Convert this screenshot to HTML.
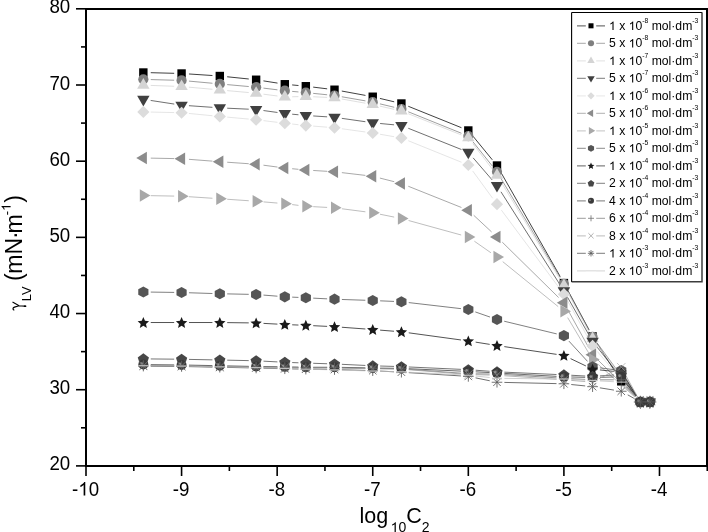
<!DOCTYPE html><html><head><meta charset="utf-8"><style>html,body{margin:0;padding:0;background:#fff;width:708px;height:532px;overflow:hidden}svg{display:block;will-change:transform}text{font-family:"Liberation Sans",sans-serif;fill:#000}</style></head><body>
<svg width="708" height="532" viewBox="0 0 708 532">
<path d="M150.75 72.70L174.18 73.31M188.96 73.98L212.43 75.53M227.17 76.77L248.77 78.99M263.44 80.89L277.50 83.09M292.17 84.93L298.47 85.52M313.18 87.12L327.16 88.83M341.79 91.06L365.46 95.40M379.94 98.43L394.21 101.81M408.28 106.28L461.46 127.71M473.01 136.21L492.31 159.80M500.65 171.95L560.24 276.64M567.40 289.59L589.07 329.88M596.55 342.63L617.27 375.10M626.29 386.76L635.33 396.49" fill="none" stroke="#000000" stroke-width="0.75"/>
<path d="M150.75 79.57L174.18 80.22M188.95 81.10L212.44 83.26M227.18 84.60L248.76 86.54M263.48 88.11L277.46 89.82M292.18 91.38L298.46 91.95M313.20 93.36L327.15 94.77M341.80 96.78L365.45 100.88M379.94 103.86L394.22 107.28M408.27 111.77L461.46 133.27M472.95 141.82L492.37 166.07M500.79 178.20L560.10 277.48M567.42 290.34L589.05 330.27M596.95 342.74L635.99 395.94" fill="none" stroke="#7f7f7f" stroke-width="0.75"/>
<path d="M150.74 85.42L174.18 86.26M188.95 87.18L212.44 89.29M227.18 90.62L248.76 92.56M263.47 94.18L277.47 96.00M292.20 96.77L298.44 96.61M313.23 96.76L327.12 97.39M341.79 99.01L365.45 103.21M379.96 106.13L394.20 109.35M408.29 113.72L461.45 134.97M472.82 143.59L492.50 169.32M500.83 181.53L560.07 279.33M567.42 292.17L589.05 332.17M597.04 344.58L635.90 396.01" fill="none" stroke="#d4d4d4" stroke-width="0.75"/>
<path d="M150.66 100.44L174.27 104.07M188.96 105.70L212.43 107.34M227.20 108.20L248.74 109.19M263.46 110.54L277.48 112.48M292.17 114.19L298.47 114.78M313.22 115.94L327.12 116.83M341.83 118.35L365.41 121.73M380.11 123.49L394.05 124.82M408.29 128.27L461.45 149.52M473.15 157.87L492.16 179.95M500.96 191.80L559.93 284.59M567.55 297.27L588.92 334.91M597.16 347.15L635.78 396.10" fill="none" stroke="#404040" stroke-width="0.75"/>
<path d="M150.75 112.05L174.18 112.57M188.94 113.45L212.45 115.74M227.18 117.13L248.76 119.07M263.48 120.64L277.46 122.34M292.16 124.04L298.48 124.73M313.21 126.10L327.13 127.17M341.84 128.74L365.41 131.99M380.03 134.25L394.12 136.69M408.27 140.72L461.46 162.22M472.69 170.96L492.63 198.25M501.41 210.16L559.48 288.25M567.49 300.66L588.99 339.44M597.38 351.55L635.56 396.28" fill="none" stroke="#dcdcdc" stroke-width="0.75"/>
<path d="M150.75 158.13L174.18 158.59M188.96 159.32L212.43 161.14M227.19 162.22L248.75 163.72M263.47 165.20L277.47 167.06M292.17 168.73L298.47 169.32M313.22 170.47L327.12 171.32M341.86 172.63L365.39 175.40M379.91 178.07L394.24 181.69M408.29 186.25L461.45 207.49M473.73 215.29L491.58 231.93M502.27 242.17L558.62 297.54M567.48 309.20L589.00 348.20M597.84 359.88L635.10 396.71" fill="none" stroke="#8c8c8c" stroke-width="0.75"/>
<path d="M150.75 195.67L174.18 196.09M188.96 196.71L212.43 198.25M227.19 199.25L248.75 200.74M263.51 201.88L277.43 203.06M292.15 204.59L298.49 205.37M313.22 206.67L327.12 207.41M341.85 208.75L365.40 211.80M379.99 214.22L394.16 217.08M408.55 220.51L461.19 235.01M474.39 241.22L490.93 252.78M502.74 261.67L558.15 306.59M567.68 317.62L588.79 353.12M598.11 364.39L634.83 397.00" fill="none" stroke="#a8a8a8" stroke-width="0.75"/>
<path d="M150.75 292.08L174.18 292.41M188.98 292.75L212.42 293.50M227.21 293.89L248.73 294.34M263.51 295.08L277.43 296.19M292.20 297.13L298.44 297.42M313.22 298.14L327.12 298.85M341.90 299.47L365.34 300.26M380.13 300.83L394.02 301.42M408.76 302.59L460.97 308.65M475.31 311.93L490.01 317.05M504.19 321.22L556.71 333.90M568.90 341.08L587.57 361.41M599.91 367.84L613.91 369.70M625.11 376.99L636.50 395.60" fill="none" stroke="#555555" stroke-width="0.75"/>
<path d="M150.75 322.53L174.18 322.53M188.98 322.53L212.41 322.53M227.21 322.62L248.73 322.89M263.52 323.38L277.42 324.12M292.20 324.80L298.44 325.05M313.23 325.70L327.12 326.37M341.89 327.26L365.36 328.99M380.12 330.13L394.04 331.24M408.75 332.82L460.99 339.96M475.63 342.13L489.69 344.37M504.31 346.62L556.58 354.36M570.58 358.63L585.90 365.96M599.93 369.93L613.89 371.42M625.25 378.42L636.36 395.69" fill="none" stroke="#1a1a1a" stroke-width="0.75"/>
<path d="M150.75 358.94L174.18 359.17M188.98 359.40L212.41 359.86M227.21 360.16L248.73 360.62M263.52 361.16L277.42 361.90M292.20 362.56L298.44 362.79M313.23 363.29L327.11 363.74M341.90 364.32L365.35 365.45M380.14 366.02L394.02 366.42M408.81 366.97L460.93 369.35M475.70 370.23L489.61 371.27M504.39 372.15L556.51 374.53M571.29 375.26L585.18 376.00M599.96 375.90L613.86 374.97M625.48 380.55L636.13 395.84" fill="none" stroke="#474747" stroke-width="0.75"/>
<path d="M150.75 364.65L174.18 364.89M188.98 365.11L212.41 365.58M227.21 365.88L248.73 366.33M263.53 366.58L277.41 366.77M292.21 367.00L298.44 367.11M313.23 367.25L327.11 367.25M341.91 367.39L365.34 367.86M380.14 368.11L394.01 368.29M408.81 368.73L460.93 371.10M475.71 371.83L489.60 372.57M504.38 373.38L556.51 376.35M571.30 376.97L585.18 377.33M599.97 377.33L613.85 376.97M625.73 382.66L635.88 396.02" fill="none" stroke="#3a3a3a" stroke-width="0.75"/>
<path d="M150.75 365.42L174.18 365.65M188.98 365.87L212.41 366.34M227.21 366.56L248.73 366.79M263.53 366.96L277.41 367.15M292.21 367.38L298.44 367.49M313.23 367.63L327.11 367.63M341.91 367.78L365.34 368.24M380.14 368.49L394.01 368.67M408.79 369.32L460.94 373.18M475.72 373.82L489.59 374.00M504.38 374.57L556.51 377.83M571.29 378.69L585.18 379.42M599.97 379.82L613.85 379.82M626.09 385.41L635.52 396.31" fill="none" stroke="#707070" stroke-width="0.75"/>
<path d="M150.75 365.80L174.18 366.03M188.98 366.25L212.41 366.72M227.21 366.94L248.73 367.17M263.53 367.35L277.41 367.53M292.21 367.76L298.44 367.87M313.23 368.01L327.11 368.01M341.91 368.16L365.34 368.62M380.14 368.87L394.01 369.05M408.79 369.74L460.94 373.90M475.72 374.68L489.60 375.05M504.38 375.75L556.52 379.31M571.28 380.40L585.20 381.51M599.14 378.70L614.68 370.65M624.82 373.73L636.79 395.43" fill="none" stroke="#9c9c9c" stroke-width="0.75"/>
<path d="M150.75 366.18L174.18 366.41M188.98 366.63L212.41 367.10M227.21 367.40L248.73 367.85M263.53 368.21L277.41 368.57M292.21 368.90L298.44 369.02M313.23 369.25L327.11 369.43M341.90 369.75L365.34 370.45M380.13 371.07L394.02 371.81M408.80 372.66L460.93 375.93M475.57 377.87L489.74 380.77M504.39 382.42L556.50 383.61M571.26 384.52L585.21 385.93M599.88 387.84L613.94 390.08M627.71 394.85L633.90 398.30" fill="none" stroke="#404040" stroke-width="0.75"/>
<path d="M150.75 365.80L174.18 366.03M188.98 366.25L212.41 366.72M227.21 367.02L248.73 367.47M263.53 367.82L277.41 368.19M292.20 368.66L298.44 368.88M313.23 369.35L327.11 369.72M341.90 370.13L365.34 370.83M380.14 371.25L394.02 371.62M408.80 372.20L460.93 374.87M475.68 376.03L489.64 377.51M504.39 378.38L556.50 378.97M571.29 379.45L585.18 380.19M599.96 380.97L613.86 381.71M626.39 387.43L635.23 396.58" fill="none" stroke="#c0c0c0" stroke-width="0.75"/>
<rect x="139.15" y="68.31" width="8.40" height="8.40" fill="#000000"/>
<rect x="177.38" y="69.30" width="8.40" height="8.40" fill="#000000"/>
<rect x="215.61" y="71.81" width="8.40" height="8.40" fill="#000000"/>
<rect x="251.93" y="75.54" width="8.40" height="8.40" fill="#000000"/>
<rect x="280.61" y="80.04" width="8.40" height="8.40" fill="#000000"/>
<rect x="301.63" y="82.02" width="8.40" height="8.40" fill="#000000"/>
<rect x="330.31" y="85.52" width="8.40" height="8.40" fill="#000000"/>
<rect x="368.54" y="92.53" width="8.40" height="8.40" fill="#000000"/>
<rect x="397.21" y="99.31" width="8.40" height="8.40" fill="#000000"/>
<rect x="464.12" y="126.28" width="8.40" height="8.40" fill="#000000"/>
<rect x="492.79" y="161.32" width="8.40" height="8.40" fill="#000000"/>
<rect x="559.70" y="278.87" width="8.40" height="8.40" fill="#000000"/>
<rect x="588.37" y="332.19" width="8.40" height="8.40" fill="#000000"/>
<rect x="617.05" y="377.14" width="8.40" height="8.40" fill="#000000"/>
<rect x="636.16" y="397.71" width="8.40" height="8.40" fill="#000000"/>
<rect x="645.72" y="397.71" width="8.40" height="8.40" fill="#000000"/>
<circle cx="143.35" cy="79.36" r="5.10" fill="#7f7f7f"/>
<circle cx="181.58" cy="80.43" r="5.10" fill="#7f7f7f"/>
<circle cx="219.81" cy="83.93" r="5.10" fill="#7f7f7f"/>
<circle cx="256.13" cy="87.21" r="5.10" fill="#7f7f7f"/>
<circle cx="284.81" cy="90.71" r="5.10" fill="#7f7f7f"/>
<circle cx="305.83" cy="92.62" r="5.10" fill="#7f7f7f"/>
<circle cx="334.51" cy="95.51" r="5.10" fill="#7f7f7f"/>
<circle cx="372.74" cy="102.14" r="5.10" fill="#7f7f7f"/>
<circle cx="401.41" cy="109.00" r="5.10" fill="#7f7f7f"/>
<circle cx="468.32" cy="136.04" r="5.10" fill="#7f7f7f"/>
<circle cx="496.99" cy="171.85" r="5.10" fill="#7f7f7f"/>
<circle cx="563.90" cy="283.83" r="5.10" fill="#7f7f7f"/>
<circle cx="592.57" cy="336.77" r="5.10" fill="#7f7f7f"/>
<circle cx="640.36" cy="401.91" r="5.10" fill="#7f7f7f"/>
<circle cx="649.92" cy="401.91" r="5.10" fill="#7f7f7f"/>
<polygon points="143.35,78.09 149.55,88.69 137.15,88.69" fill="#d4d4d4"/>
<polygon points="181.58,79.46 187.78,90.06 175.38,90.06" fill="#d4d4d4"/>
<polygon points="219.81,82.89 226.01,93.49 213.61,93.49" fill="#d4d4d4"/>
<polygon points="256.13,86.16 262.33,96.76 249.93,96.76" fill="#d4d4d4"/>
<polygon points="284.81,89.89 291.01,100.49 278.61,100.49" fill="#d4d4d4"/>
<polygon points="305.83,89.36 312.03,99.96 299.63,99.96" fill="#d4d4d4"/>
<polygon points="334.51,90.66 340.71,101.26 328.31,101.26" fill="#d4d4d4"/>
<polygon points="372.74,97.44 378.94,108.04 366.54,108.04" fill="#d4d4d4"/>
<polygon points="401.41,103.91 407.61,114.51 395.21,114.51" fill="#d4d4d4"/>
<polygon points="468.32,130.65 474.52,141.25 462.12,141.25" fill="#d4d4d4"/>
<polygon points="496.99,168.13 503.19,178.73 490.79,178.73" fill="#d4d4d4"/>
<polygon points="563.90,278.59 570.10,289.19 557.70,289.19" fill="#d4d4d4"/>
<polygon points="592.57,331.61 598.77,342.21 586.37,342.21" fill="#d4d4d4"/>
<polygon points="640.36,394.84 646.56,405.44 634.16,405.44" fill="#d4d4d4"/>
<polygon points="649.92,394.84 656.12,405.44 643.72,405.44" fill="#d4d4d4"/>
<polygon points="143.35,106.39 149.55,95.79 137.15,95.79" fill="#404040"/>
<polygon points="181.58,112.25 187.78,101.65 175.38,101.65" fill="#404040"/>
<polygon points="219.81,114.92 226.01,104.32 213.61,104.32" fill="#404040"/>
<polygon points="256.13,116.60 262.33,106.00 249.93,106.00" fill="#404040"/>
<polygon points="284.81,120.56 291.01,109.96 278.61,109.96" fill="#404040"/>
<polygon points="305.83,122.54 312.03,111.94 299.63,111.94" fill="#404040"/>
<polygon points="334.51,124.37 340.71,113.77 328.31,113.77" fill="#404040"/>
<polygon points="372.74,129.85 378.94,119.25 366.54,119.25" fill="#404040"/>
<polygon points="401.41,132.59 407.61,121.99 395.21,121.99" fill="#404040"/>
<polygon points="468.32,159.33 474.52,148.73 462.12,148.73" fill="#404040"/>
<polygon points="496.99,192.62 503.19,182.02 490.79,182.02" fill="#404040"/>
<polygon points="563.90,297.91 570.10,287.31 557.70,287.31" fill="#404040"/>
<polygon points="592.57,348.41 598.77,337.81 586.37,337.81" fill="#404040"/>
<polygon points="640.36,408.98 646.56,398.38 634.16,398.38" fill="#404040"/>
<polygon points="649.92,408.98 656.12,398.38 643.72,398.38" fill="#404040"/>
<polygon points="143.35,105.79 149.45,111.89 143.35,117.99 137.25,111.89" fill="#dcdcdc"/>
<polygon points="181.58,106.63 187.68,112.73 181.58,118.83 175.48,112.73" fill="#dcdcdc"/>
<polygon points="219.81,110.36 225.91,116.46 219.81,122.56 213.71,116.46" fill="#dcdcdc"/>
<polygon points="256.13,113.64 262.23,119.74 256.13,125.84 250.03,119.74" fill="#dcdcdc"/>
<polygon points="284.81,117.14 290.91,123.24 284.81,129.34 278.71,123.24" fill="#dcdcdc"/>
<polygon points="305.83,119.43 311.93,125.53 305.83,131.63 299.73,125.53" fill="#dcdcdc"/>
<polygon points="334.51,121.64 340.61,127.74 334.51,133.84 328.41,127.74" fill="#dcdcdc"/>
<polygon points="372.74,126.89 378.84,132.99 372.74,139.09 366.64,132.99" fill="#dcdcdc"/>
<polygon points="401.41,131.85 407.51,137.95 401.41,144.05 395.31,137.95" fill="#dcdcdc"/>
<polygon points="468.32,158.89 474.42,164.99 468.32,171.09 462.22,164.99" fill="#dcdcdc"/>
<polygon points="496.99,198.12 503.09,204.22 496.99,210.32 490.89,204.22" fill="#dcdcdc"/>
<polygon points="563.90,288.09 570.00,294.19 563.90,300.29 557.80,294.19" fill="#dcdcdc"/>
<polygon points="592.57,339.82 598.67,345.92 592.57,352.02 586.47,345.92" fill="#dcdcdc"/>
<polygon points="640.36,395.81 646.46,401.91 640.36,408.01 634.26,401.91" fill="#dcdcdc"/>
<polygon points="649.92,395.81 656.02,401.91 649.92,408.01 643.82,401.91" fill="#dcdcdc"/>
<polygon points="136.28,157.98 146.88,151.78 146.88,164.18" fill="#8c8c8c"/>
<polygon points="174.51,158.74 185.11,152.54 185.11,164.94" fill="#8c8c8c"/>
<polygon points="212.75,161.71 223.35,155.51 223.35,167.91" fill="#8c8c8c"/>
<polygon points="249.07,164.23 259.67,158.03 259.67,170.43" fill="#8c8c8c"/>
<polygon points="277.74,168.04 288.34,161.84 288.34,174.24" fill="#8c8c8c"/>
<polygon points="298.77,170.02 309.37,163.82 309.37,176.22" fill="#8c8c8c"/>
<polygon points="327.44,171.77 338.04,165.57 338.04,177.97" fill="#8c8c8c"/>
<polygon points="365.67,176.26 376.27,170.06 376.27,182.46" fill="#8c8c8c"/>
<polygon points="394.35,183.50 404.95,177.30 404.95,189.70" fill="#8c8c8c"/>
<polygon points="461.25,210.24 471.85,204.04 471.85,216.44" fill="#8c8c8c"/>
<polygon points="489.93,236.98 500.53,230.78 500.53,243.18" fill="#8c8c8c"/>
<polygon points="556.83,302.72 567.43,296.52 567.43,308.92" fill="#8c8c8c"/>
<polygon points="585.51,354.68 596.11,348.48 596.11,360.88" fill="#8c8c8c"/>
<polygon points="633.30,401.91 643.90,395.71 643.90,408.11" fill="#8c8c8c"/>
<polygon points="642.86,401.91 653.46,395.71 653.46,408.11" fill="#8c8c8c"/>
<polygon points="150.41,195.54 139.81,189.34 139.81,201.74" fill="#a8a8a8"/>
<polygon points="188.65,196.22 178.05,190.02 178.05,202.42" fill="#a8a8a8"/>
<polygon points="226.88,198.74 216.28,192.54 216.28,204.94" fill="#a8a8a8"/>
<polygon points="263.20,201.25 252.60,195.05 252.60,207.45" fill="#a8a8a8"/>
<polygon points="291.87,203.69 281.27,197.49 281.27,209.89" fill="#a8a8a8"/>
<polygon points="312.90,206.28 302.30,200.08 302.30,212.48" fill="#a8a8a8"/>
<polygon points="341.57,207.80 330.97,201.60 330.97,214.00" fill="#a8a8a8"/>
<polygon points="379.81,212.75 369.21,206.55 369.21,218.95" fill="#a8a8a8"/>
<polygon points="408.48,218.54 397.88,212.34 397.88,224.74" fill="#a8a8a8"/>
<polygon points="475.39,236.98 464.79,230.78 464.79,243.18" fill="#a8a8a8"/>
<polygon points="504.06,257.01 493.46,250.81 493.46,263.21" fill="#a8a8a8"/>
<polygon points="570.97,311.25 560.37,305.05 560.37,317.45" fill="#a8a8a8"/>
<polygon points="599.64,359.48 589.04,353.28 589.04,365.68" fill="#a8a8a8"/>
<polygon points="647.43,401.91 636.83,395.71 636.83,408.11" fill="#a8a8a8"/>
<polygon points="656.99,401.91 646.39,395.71 646.39,408.11" fill="#a8a8a8"/>
<polygon points="148.44,294.78 143.35,297.58 138.26,294.78 138.26,289.18 143.35,286.38 148.44,289.18" fill="#555555"/>
<polygon points="186.67,295.31 181.58,298.11 176.49,295.31 176.49,289.71 181.58,286.91 186.67,289.71" fill="#555555"/>
<polygon points="224.90,296.53 219.81,299.33 214.72,296.53 214.72,290.93 219.81,288.13 224.90,290.93" fill="#555555"/>
<polygon points="261.22,297.30 256.13,300.10 251.04,297.30 251.04,291.69 256.13,288.89 261.22,291.69" fill="#555555"/>
<polygon points="289.90,299.58 284.81,302.38 279.71,299.58 279.71,293.98 284.81,291.18 289.90,293.98" fill="#555555"/>
<polygon points="310.93,300.57 305.83,303.37 300.74,300.57 300.74,294.97 305.83,292.17 310.93,294.97" fill="#555555"/>
<polygon points="339.60,302.02 334.51,304.82 329.42,302.02 329.42,296.42 334.51,293.62 339.60,296.42" fill="#555555"/>
<polygon points="377.83,303.31 372.74,306.11 367.65,303.31 367.65,297.71 372.74,294.91 377.83,297.71" fill="#555555"/>
<polygon points="406.51,304.53 401.41,307.33 396.32,304.53 396.32,298.93 401.41,296.13 406.51,298.93" fill="#555555"/>
<polygon points="473.41,312.30 468.32,315.10 463.23,312.30 463.23,306.70 468.32,303.90 473.41,306.70" fill="#555555"/>
<polygon points="502.09,322.28 496.99,325.08 491.90,322.28 491.90,316.68 496.99,313.88 502.09,316.68" fill="#555555"/>
<polygon points="568.99,338.43 563.90,341.23 558.81,338.43 558.81,332.83 563.90,330.03 568.99,332.83" fill="#555555"/>
<polygon points="597.67,369.67 592.57,372.47 587.48,369.67 587.48,364.07 592.57,361.27 597.67,364.07" fill="#555555"/>
<polygon points="626.34,373.47 621.25,376.27 616.16,373.47 616.16,367.87 621.25,365.07 626.34,367.87" fill="#555555"/>
<polygon points="645.46,404.71 640.36,407.51 635.27,404.71 635.27,399.11 640.36,396.31 645.46,399.11" fill="#555555"/>
<polygon points="655.01,404.71 649.92,407.51 644.83,404.71 644.83,399.11 649.92,396.31 655.01,399.11" fill="#555555"/>
<polygon points="143.35,317.03 144.97,320.80 149.05,321.18 145.97,323.88 146.87,327.88 143.35,325.79 139.82,327.88 140.72,323.88 137.64,321.18 141.73,320.80" fill="#1a1a1a"/>
<polygon points="181.58,317.03 183.20,320.80 187.29,321.18 184.20,323.88 185.11,327.88 181.58,325.79 178.05,327.88 178.96,323.88 175.87,321.18 179.96,320.80" fill="#1a1a1a"/>
<polygon points="219.81,317.03 221.43,320.80 225.52,321.18 222.44,323.88 223.34,327.88 219.81,325.79 216.29,327.88 217.19,323.88 214.11,321.18 218.19,320.80" fill="#1a1a1a"/>
<polygon points="256.13,317.49 257.75,321.25 261.84,321.63 258.76,324.34 259.66,328.34 256.13,326.25 252.61,328.34 253.51,324.34 250.43,321.63 254.51,321.25" fill="#1a1a1a"/>
<polygon points="284.81,319.01 286.43,322.78 290.51,323.16 287.43,325.86 288.33,329.86 284.81,327.77 281.28,329.86 282.18,325.86 279.10,323.16 283.18,322.78" fill="#1a1a1a"/>
<polygon points="305.83,319.85 307.46,323.62 311.54,323.99 308.46,326.70 309.36,330.70 305.83,328.61 302.31,330.70 303.21,326.70 300.13,323.99 304.21,323.62" fill="#1a1a1a"/>
<polygon points="334.51,321.22 336.13,324.99 340.21,325.37 337.13,328.07 338.03,332.07 334.51,329.98 330.98,332.07 331.88,328.07 328.80,325.37 332.89,324.99" fill="#1a1a1a"/>
<polygon points="372.74,324.04 374.36,327.80 378.45,328.18 375.36,330.89 376.27,334.89 372.74,332.80 369.21,334.89 370.12,330.89 367.03,328.18 371.12,327.80" fill="#1a1a1a"/>
<polygon points="401.41,326.32 403.04,330.09 407.12,330.47 404.04,333.18 404.94,337.18 401.41,335.08 397.89,337.18 398.79,333.18 395.71,330.47 399.79,330.09" fill="#1a1a1a"/>
<polygon points="468.32,335.46 469.94,339.23 474.03,339.61 470.94,342.32 471.85,346.32 468.32,344.22 464.79,346.32 465.70,342.32 462.61,339.61 466.70,339.23" fill="#1a1a1a"/>
<polygon points="496.99,340.04 498.62,343.80 502.70,344.18 499.62,346.89 500.52,350.89 496.99,348.80 493.47,350.89 494.37,346.89 491.29,344.18 495.37,343.80" fill="#1a1a1a"/>
<polygon points="563.90,349.94 565.52,353.71 569.61,354.08 566.52,356.79 567.43,360.79 563.90,358.70 560.37,360.79 561.28,356.79 558.19,354.08 562.28,353.71" fill="#1a1a1a"/>
<polygon points="592.57,363.65 594.20,367.42 598.28,367.80 595.20,370.50 596.10,374.51 592.57,372.41 589.05,374.51 589.95,370.50 586.87,367.80 590.95,367.42" fill="#1a1a1a"/>
<polygon points="621.25,366.70 622.87,370.47 626.95,370.84 623.87,373.55 624.77,377.55 621.25,375.46 617.72,377.55 618.62,373.55 615.54,370.84 619.63,370.47" fill="#1a1a1a"/>
<polygon points="640.36,396.41 641.99,400.18 646.07,400.55 642.99,403.26 643.89,407.26 640.36,405.17 636.84,407.26 637.74,403.26 634.66,400.55 638.74,400.18" fill="#1a1a1a"/>
<polygon points="649.92,396.41 651.54,400.18 655.63,400.55 652.55,403.26 653.45,407.26 649.92,405.17 646.40,407.26 647.30,403.26 644.22,400.55 648.30,400.18" fill="#1a1a1a"/>
<polygon points="143.35,353.37 148.96,357.44 146.82,364.04 139.88,364.04 137.74,357.44" fill="#474747"/>
<polygon points="181.58,353.75 187.19,357.82 185.05,364.42 178.11,364.42 175.97,357.82" fill="#474747"/>
<polygon points="219.81,354.51 225.42,358.59 223.28,365.18 216.34,365.18 214.20,358.59" fill="#474747"/>
<polygon points="256.13,355.27 261.74,359.35 259.60,365.94 252.66,365.94 250.52,359.35" fill="#474747"/>
<polygon points="284.81,356.80 290.42,360.87 288.27,367.47 281.34,367.47 279.20,360.87" fill="#474747"/>
<polygon points="305.83,357.56 311.45,361.63 309.30,368.23 302.37,368.23 300.22,361.63" fill="#474747"/>
<polygon points="334.51,358.47 340.12,362.55 337.98,369.14 331.04,369.14 328.90,362.55" fill="#474747"/>
<polygon points="372.74,360.30 378.35,364.38 376.21,370.97 369.27,370.97 367.13,364.38" fill="#474747"/>
<polygon points="401.41,361.14 407.03,365.21 404.88,371.81 397.95,371.81 395.80,365.21" fill="#474747"/>
<polygon points="468.32,364.18 473.93,368.26 471.79,374.86 464.85,374.86 462.71,368.26" fill="#474747"/>
<polygon points="496.99,366.32 502.61,370.39 500.46,376.99 493.53,376.99 491.38,370.39" fill="#474747"/>
<polygon points="563.90,369.36 569.51,373.44 567.37,380.04 560.43,380.04 558.29,373.44" fill="#474747"/>
<polygon points="592.57,370.89 598.19,374.97 596.04,381.56 589.11,381.56 586.96,374.97" fill="#474747"/>
<polygon points="621.25,368.98 626.86,373.06 624.72,379.66 617.78,379.66 615.64,373.06" fill="#474747"/>
<polygon points="640.36,396.41 645.98,400.49 643.83,407.08 636.90,407.08 634.75,400.49" fill="#474747"/>
<polygon points="649.92,396.41 655.53,400.49 653.39,407.08 646.45,407.08 644.31,400.49" fill="#474747"/>
<circle cx="143.35" cy="364.58" r="5.00" fill="#3a3a3a"/><circle cx="141.65" cy="363.58" r="1.40" fill="#8a8a8a"/>
<circle cx="181.58" cy="364.96" r="5.00" fill="#3a3a3a"/><circle cx="179.88" cy="363.96" r="1.40" fill="#8a8a8a"/>
<circle cx="219.81" cy="365.72" r="5.00" fill="#3a3a3a"/><circle cx="218.11" cy="364.72" r="1.40" fill="#8a8a8a"/>
<circle cx="256.13" cy="366.49" r="5.00" fill="#3a3a3a"/><circle cx="254.43" cy="365.49" r="1.40" fill="#8a8a8a"/>
<circle cx="284.81" cy="366.87" r="5.00" fill="#3a3a3a"/><circle cx="283.11" cy="365.87" r="1.40" fill="#8a8a8a"/>
<circle cx="305.83" cy="367.25" r="5.00" fill="#3a3a3a"/><circle cx="304.13" cy="366.25" r="1.40" fill="#8a8a8a"/>
<circle cx="334.51" cy="367.25" r="5.00" fill="#3a3a3a"/><circle cx="332.81" cy="366.25" r="1.40" fill="#8a8a8a"/>
<circle cx="372.74" cy="368.01" r="5.00" fill="#3a3a3a"/><circle cx="371.04" cy="367.01" r="1.40" fill="#8a8a8a"/>
<circle cx="401.41" cy="368.39" r="5.00" fill="#3a3a3a"/><circle cx="399.71" cy="367.39" r="1.40" fill="#8a8a8a"/>
<circle cx="468.32" cy="371.44" r="5.00" fill="#3a3a3a"/><circle cx="466.62" cy="370.44" r="1.40" fill="#8a8a8a"/>
<circle cx="496.99" cy="372.96" r="5.00" fill="#3a3a3a"/><circle cx="495.29" cy="371.96" r="1.40" fill="#8a8a8a"/>
<circle cx="563.90" cy="376.77" r="5.00" fill="#3a3a3a"/><circle cx="562.20" cy="375.77" r="1.40" fill="#8a8a8a"/>
<circle cx="592.57" cy="377.53" r="5.00" fill="#3a3a3a"/><circle cx="590.87" cy="376.53" r="1.40" fill="#8a8a8a"/>
<circle cx="621.25" cy="376.77" r="5.00" fill="#3a3a3a"/><circle cx="619.55" cy="375.77" r="1.40" fill="#8a8a8a"/>
<circle cx="640.36" cy="401.91" r="5.00" fill="#3a3a3a"/><circle cx="638.66" cy="400.91" r="1.40" fill="#8a8a8a"/>
<circle cx="649.92" cy="401.91" r="5.00" fill="#3a3a3a"/><circle cx="648.22" cy="400.91" r="1.40" fill="#8a8a8a"/>
<path d="M138.35 365.34H148.35M143.35 360.34V370.34" stroke="#707070" stroke-width="0.6" fill="none"/>
<path d="M176.58 365.72H186.58M181.58 360.72V370.72" stroke="#707070" stroke-width="0.6" fill="none"/>
<path d="M214.81 366.49H224.81M219.81 361.49V371.49" stroke="#707070" stroke-width="0.6" fill="none"/>
<path d="M251.13 366.87H261.13M256.13 361.87V371.87" stroke="#707070" stroke-width="0.6" fill="none"/>
<path d="M279.81 367.25H289.81M284.81 362.25V372.25" stroke="#707070" stroke-width="0.6" fill="none"/>
<path d="M300.83 367.63H310.83M305.83 362.63V372.63" stroke="#707070" stroke-width="0.6" fill="none"/>
<path d="M329.51 367.63H339.51M334.51 362.63V372.63" stroke="#707070" stroke-width="0.6" fill="none"/>
<path d="M367.74 368.39H377.74M372.74 363.39V373.39" stroke="#707070" stroke-width="0.6" fill="none"/>
<path d="M396.41 368.77H406.41M401.41 363.77V373.77" stroke="#707070" stroke-width="0.6" fill="none"/>
<path d="M463.32 373.72H473.32M468.32 368.72V378.72" stroke="#707070" stroke-width="0.6" fill="none"/>
<path d="M491.99 374.10H501.99M496.99 369.10V379.10" stroke="#707070" stroke-width="0.6" fill="none"/>
<path d="M558.90 378.29H568.90M563.90 373.29V383.29" stroke="#707070" stroke-width="0.6" fill="none"/>
<path d="M587.57 379.82H597.57M592.57 374.82V384.82" stroke="#707070" stroke-width="0.6" fill="none"/>
<path d="M616.25 379.82H626.25M621.25 374.82V384.82" stroke="#707070" stroke-width="0.6" fill="none"/>
<path d="M139.05 361.42L147.65 370.02M147.65 361.42L139.05 370.02" stroke="#9c9c9c" stroke-width="0.6" fill="none"/>
<path d="M177.28 361.80L185.88 370.40M185.88 361.80L177.28 370.40" stroke="#9c9c9c" stroke-width="0.6" fill="none"/>
<path d="M215.51 362.57L224.11 371.17M224.11 362.57L215.51 371.17" stroke="#9c9c9c" stroke-width="0.6" fill="none"/>
<path d="M251.83 362.95L260.43 371.55M260.43 362.95L251.83 371.55" stroke="#9c9c9c" stroke-width="0.6" fill="none"/>
<path d="M280.51 363.33L289.11 371.93M289.11 363.33L280.51 371.93" stroke="#9c9c9c" stroke-width="0.6" fill="none"/>
<path d="M301.53 363.71L310.13 372.31M310.13 363.71L301.53 372.31" stroke="#9c9c9c" stroke-width="0.6" fill="none"/>
<path d="M330.21 363.71L338.81 372.31M338.81 363.71L330.21 372.31" stroke="#9c9c9c" stroke-width="0.6" fill="none"/>
<path d="M368.44 364.47L377.04 373.07M377.04 364.47L368.44 373.07" stroke="#9c9c9c" stroke-width="0.6" fill="none"/>
<path d="M397.11 364.85L405.71 373.45M405.71 364.85L397.11 373.45" stroke="#9c9c9c" stroke-width="0.6" fill="none"/>
<path d="M464.02 370.18L472.62 378.78M472.62 370.18L464.02 378.78" stroke="#9c9c9c" stroke-width="0.6" fill="none"/>
<path d="M492.69 370.95L501.29 379.55M501.29 370.95L492.69 379.55" stroke="#9c9c9c" stroke-width="0.6" fill="none"/>
<path d="M559.60 375.52L568.20 384.12M568.20 375.52L559.60 384.12" stroke="#9c9c9c" stroke-width="0.6" fill="none"/>
<path d="M588.27 377.80L596.87 386.40M596.87 377.80L588.27 386.40" stroke="#9c9c9c" stroke-width="0.6" fill="none"/>
<path d="M616.95 362.95L625.55 371.55M625.55 362.95L616.95 371.55" stroke="#9c9c9c" stroke-width="0.6" fill="none"/>
<path d="M138.05 366.10L148.65 366.10M139.60 362.36L147.10 369.85M143.35 360.80L143.35 371.40M147.10 362.36L139.60 369.85" stroke="#5a5a5a" stroke-width="0.85" fill="none"/>
<path d="M176.28 366.49L186.88 366.49M177.83 362.74L185.33 370.23M181.58 361.19L181.58 371.79M185.33 362.74L177.83 370.23" stroke="#5a5a5a" stroke-width="0.85" fill="none"/>
<path d="M214.51 367.25L225.11 367.25M216.06 363.50L223.56 370.99M219.81 361.95L219.81 372.55M223.56 363.50L216.06 370.99" stroke="#5a5a5a" stroke-width="0.85" fill="none"/>
<path d="M250.83 368.01L261.43 368.01M252.38 364.26L259.88 371.76M256.13 362.71L256.13 373.31M259.88 364.26L252.38 371.76" stroke="#5a5a5a" stroke-width="0.85" fill="none"/>
<path d="M279.51 368.77L290.11 368.77M281.06 365.02L288.55 372.52M284.81 363.47L284.81 374.07M288.55 365.02L281.06 372.52" stroke="#5a5a5a" stroke-width="0.85" fill="none"/>
<path d="M300.53 369.15L311.13 369.15M302.09 365.40L309.58 372.90M305.83 363.85L305.83 374.45M309.58 365.40L302.09 372.90" stroke="#5a5a5a" stroke-width="0.85" fill="none"/>
<path d="M329.21 369.53L339.81 369.53M330.76 365.78L338.26 373.28M334.51 364.23L334.51 374.83M338.26 365.78L330.76 373.28" stroke="#5a5a5a" stroke-width="0.85" fill="none"/>
<path d="M367.44 370.67L378.04 370.67M368.99 366.93L376.49 374.42M372.74 365.37L372.74 375.97M376.49 366.93L368.99 374.42" stroke="#5a5a5a" stroke-width="0.85" fill="none"/>
<path d="M396.11 372.20L406.71 372.20M397.67 368.45L405.16 375.95M401.41 366.90L401.41 377.50M405.16 368.45L397.67 375.95" stroke="#5a5a5a" stroke-width="0.85" fill="none"/>
<path d="M463.02 376.39L473.62 376.39M464.57 372.64L472.07 380.14M468.32 371.09L468.32 381.69M472.07 372.64L464.57 380.14" stroke="#5a5a5a" stroke-width="0.85" fill="none"/>
<path d="M491.69 382.25L502.29 382.25M493.25 378.51L500.74 386.00M496.99 376.95L496.99 387.55M500.74 378.51L493.25 386.00" stroke="#5a5a5a" stroke-width="0.85" fill="none"/>
<path d="M558.60 383.78L569.20 383.78M560.15 380.03L567.65 387.53M563.90 378.48L563.90 389.08M567.65 380.03L560.15 387.53" stroke="#5a5a5a" stroke-width="0.85" fill="none"/>
<path d="M587.27 386.67L597.87 386.67M588.83 382.93L596.32 390.42M592.57 381.37L592.57 391.97M596.32 382.93L588.83 390.42" stroke="#5a5a5a" stroke-width="0.85" fill="none"/>
<path d="M615.95 391.24L626.55 391.24M617.50 387.50L625.00 394.99M621.25 385.94L621.25 396.54M625.00 387.50L617.50 394.99" stroke="#5a5a5a" stroke-width="0.85" fill="none"/>
<path d="M635.06 401.91L645.66 401.91M636.62 398.16L644.11 405.66M640.36 396.61L640.36 407.21M644.11 398.16L636.62 405.66" stroke="#5a5a5a" stroke-width="0.85" fill="none"/>
<path d="M644.62 401.91L655.22 401.91M646.17 398.16L653.67 405.66M649.92 396.61L649.92 407.21M653.67 398.16L646.17 405.66" stroke="#5a5a5a" stroke-width="0.85" fill="none"/>
<path d="M138.35 365.72H148.35" stroke="#c0c0c0" stroke-width="1.2" fill="none"/>
<path d="M176.58 366.10H186.58" stroke="#c0c0c0" stroke-width="1.2" fill="none"/>
<path d="M214.81 366.87H224.81" stroke="#c0c0c0" stroke-width="1.2" fill="none"/>
<path d="M251.13 367.63H261.13" stroke="#c0c0c0" stroke-width="1.2" fill="none"/>
<path d="M279.81 368.39H289.81" stroke="#c0c0c0" stroke-width="1.2" fill="none"/>
<path d="M300.83 369.15H310.83" stroke="#c0c0c0" stroke-width="1.2" fill="none"/>
<path d="M329.51 369.91H339.51" stroke="#c0c0c0" stroke-width="1.2" fill="none"/>
<path d="M367.74 371.06H377.74" stroke="#c0c0c0" stroke-width="1.2" fill="none"/>
<path d="M396.41 371.82H406.41" stroke="#c0c0c0" stroke-width="1.2" fill="none"/>
<path d="M463.32 375.25H473.32" stroke="#c0c0c0" stroke-width="1.2" fill="none"/>
<path d="M491.99 378.29H501.99" stroke="#c0c0c0" stroke-width="1.2" fill="none"/>
<path d="M558.90 379.05H568.90" stroke="#c0c0c0" stroke-width="1.2" fill="none"/>
<path d="M587.57 380.58H597.57" stroke="#c0c0c0" stroke-width="1.2" fill="none"/>
<path d="M616.25 382.10H626.25" stroke="#c0c0c0" stroke-width="1.2" fill="none"/>
<g stroke="#000" fill="none">
<rect x="86" y="9" width="621" height="457" stroke-width="2"/>
<path d="M76 465.90H86" stroke-width="1.6"/>
<path d="M81 427.81H86" stroke-width="1.6"/>
<path d="M76 389.72H86" stroke-width="1.6"/>
<path d="M81 351.63H86" stroke-width="1.6"/>
<path d="M76 313.54H86" stroke-width="1.6"/>
<path d="M81 275.45H86" stroke-width="1.6"/>
<path d="M76 237.36H86" stroke-width="1.6"/>
<path d="M81 199.27H86" stroke-width="1.6"/>
<path d="M76 161.18H86" stroke-width="1.6"/>
<path d="M81 123.09H86" stroke-width="1.6"/>
<path d="M76 85.00H86" stroke-width="1.6"/>
<path d="M81 46.91H86" stroke-width="1.6"/>
<path d="M76 8.82H86" stroke-width="1.6"/>
<path d="M86.00 466V476" stroke-width="1.6"/>
<path d="M133.79 466V471" stroke-width="1.6"/>
<path d="M181.58 466V476" stroke-width="1.6"/>
<path d="M229.37 466V471" stroke-width="1.6"/>
<path d="M277.16 466V476" stroke-width="1.6"/>
<path d="M324.95 466V471" stroke-width="1.6"/>
<path d="M372.74 466V476" stroke-width="1.6"/>
<path d="M420.53 466V471" stroke-width="1.6"/>
<path d="M468.32 466V476" stroke-width="1.6"/>
<path d="M516.11 466V471" stroke-width="1.6"/>
<path d="M563.90 466V476" stroke-width="1.6"/>
<path d="M611.69 466V471" stroke-width="1.6"/>
<path d="M659.48 466V476" stroke-width="1.6"/>
<path d="M707.27 466V471" stroke-width="1.6"/>
</g>
<g transform="translate(0 470.50) scale(1 1.04) translate(0 -470.50)"><text x="49.40" y="470.50" font-size="18.7" xml:space="preserve">20</text></g>
<g transform="translate(0 394.32) scale(1 1.04) translate(0 -394.32)"><text x="49.40" y="394.32" font-size="18.7" xml:space="preserve">30</text></g>
<g transform="translate(0 318.14) scale(1 1.04) translate(0 -318.14)"><text x="49.40" y="318.14" font-size="18.7" xml:space="preserve">40</text></g>
<g transform="translate(0 241.96) scale(1 1.04) translate(0 -241.96)"><text x="49.40" y="241.96" font-size="18.7" xml:space="preserve">50</text></g>
<g transform="translate(0 165.78) scale(1 1.04) translate(0 -165.78)"><text x="49.40" y="165.78" font-size="18.7" xml:space="preserve">60</text></g>
<g transform="translate(0 89.60) scale(1 1.04) translate(0 -89.60)"><text x="49.40" y="89.60" font-size="18.7" xml:space="preserve">70</text></g>
<g transform="translate(0 13.42) scale(1 1.04) translate(0 -13.42)"><text x="49.40" y="13.42" font-size="18.7" xml:space="preserve">80</text></g>
<g transform="translate(0 495.6) scale(1 1.04) translate(0 -495.6)"><text x="72.09" y="495.60" font-size="18.7" xml:space="preserve">-</text><path d="M763 0H583V1113Q518 1052 412 992Q307 932 223 902V1071Q374 1140 487 1238Q600 1336 647 1428H763Z" transform="translate(78.31 495.60) scale(0.00913 -0.00913)" fill="#000"/><text x="88.71" y="495.60" font-size="18.7" xml:space="preserve">0</text></g>
<g transform="translate(0 495.6) scale(1 1.04) translate(0 -495.6)"><text x="172.87" y="495.60" font-size="18.7" xml:space="preserve">-9</text></g>
<g transform="translate(0 495.6) scale(1 1.04) translate(0 -495.6)"><text x="268.45" y="495.60" font-size="18.7" xml:space="preserve">-8</text></g>
<g transform="translate(0 495.6) scale(1 1.04) translate(0 -495.6)"><text x="364.03" y="495.60" font-size="18.7" xml:space="preserve">-7</text></g>
<g transform="translate(0 495.6) scale(1 1.04) translate(0 -495.6)"><text x="459.61" y="495.60" font-size="18.7" xml:space="preserve">-6</text></g>
<g transform="translate(0 495.6) scale(1 1.04) translate(0 -495.6)"><text x="555.19" y="495.60" font-size="18.7" xml:space="preserve">-5</text></g>
<g transform="translate(0 495.6) scale(1 1.04) translate(0 -495.6)"><text x="650.77" y="495.60" font-size="18.7" xml:space="preserve">-4</text></g>
<text x="359.50" y="522.90" font-size="21.5" xml:space="preserve">log</text><path d="M763 0H583V1113Q518 1052 412 992Q307 932 223 902V1071Q374 1140 487 1238Q600 1336 647 1428H763Z" transform="translate(390.59 531.90) scale(0.00684 -0.00684)" fill="#000"/><text x="398.38" y="531.90" font-size="14" xml:space="preserve">0</text><text x="406.16" y="522.90" font-size="21.5" xml:space="preserve">C</text><text x="421.69" y="531.90" font-size="14" xml:space="preserve">2</text>
<g transform="translate(22.1,311) rotate(-90)"><path d="M0.8 -7.8C1.4 -9.6 3.2 -9.6 3.9 -7.6L5.3 -3.0M8.9 -9.6L5.3 -3.0L4.9 2.6" stroke="#000" stroke-width="1.15" fill="none"/><ellipse cx="4.85" cy="3.0" rx="0.95" ry="1.3"/><text font-size="13" x="9.65" y="8.7">LV</text><text font-size="23" y="0"><tspan x="30.0">(</tspan><tspan x="37.3">mN</tspan><tspan x="72.0">·</tspan><tspan x="77.4">m</tspan><tspan x="108.3">)</tspan></text><text x="95.80" y="-11.50" font-size="13" xml:space="preserve">-</text><path d="M763 0H583V1113Q518 1052 412 992Q307 932 223 902V1071Q374 1140 487 1238Q600 1336 647 1428H763Z" transform="translate(100.13 -11.50) scale(0.00635 -0.00635)" fill="#000"/></g>
<rect x="571.6" y="12.5" width="130.4" height="269.25" fill="#fff"/><path d="M571.6 12.5H702.2M571.6 12.5V282" stroke="#000" stroke-width="1.1" fill="none"/><path d="M702 12.5V281.7H571.6" stroke="#3c3c3c" stroke-width="1.5" fill="none"/>
<path d="M577 25.80H585.8M596.2 25.80H605" stroke="#000000" stroke-width="1.2" fill="none" opacity="0.55"/>
<rect x="588.48" y="23.28" width="5.04" height="5.04" fill="#000000"/>
<path d="M763 0H583V1113Q518 1052 412 992Q307 932 223 902V1071Q374 1140 487 1238Q600 1336 647 1428H763Z" transform="translate(609.00 29.90) scale(0.00596 -0.00596)" fill="#000"/><text x="615.79" y="29.90" font-size="12.2" xml:space="preserve"> x </text><path d="M763 0H583V1113Q518 1052 412 992Q307 932 223 902V1071Q374 1140 487 1238Q600 1336 647 1428H763Z" transform="translate(628.66 29.90) scale(0.00596 -0.00596)" fill="#000"/><text x="635.45" y="29.90" font-size="12.2" xml:space="preserve">0</text><text x="642.23" y="22.80" font-size="6.8" xml:space="preserve">-8</text><text x="648.28" y="29.90" font-size="12.2" xml:space="preserve"> mol·dm</text><text x="692.34" y="22.80" font-size="6.8" xml:space="preserve">-3</text>
<path d="M577 43.30H585.8M596.2 43.30H605" stroke="#7f7f7f" stroke-width="1.2" fill="none" opacity="0.55"/>
<circle cx="591.00" cy="43.30" r="3.06" fill="#7f7f7f"/>
<text x="609.00" y="47.40" font-size="12.2" xml:space="preserve">5 x </text><path d="M763 0H583V1113Q518 1052 412 992Q307 932 223 902V1071Q374 1140 487 1238Q600 1336 647 1428H763Z" transform="translate(628.66 47.40) scale(0.00596 -0.00596)" fill="#000"/><text x="635.45" y="47.40" font-size="12.2" xml:space="preserve">0</text><text x="642.23" y="40.30" font-size="6.8" xml:space="preserve">-8</text><text x="648.28" y="47.40" font-size="12.2" xml:space="preserve"> mol·dm</text><text x="692.34" y="40.30" font-size="6.8" xml:space="preserve">-3</text>
<path d="M577 60.80H585.8M596.2 60.80H605" stroke="#d4d4d4" stroke-width="1.2" fill="none" opacity="0.55"/>
<polygon points="591.00,56.56 594.72,62.92 587.28,62.92" fill="#d4d4d4"/>
<path d="M763 0H583V1113Q518 1052 412 992Q307 932 223 902V1071Q374 1140 487 1238Q600 1336 647 1428H763Z" transform="translate(609.00 64.90) scale(0.00596 -0.00596)" fill="#000"/><text x="615.79" y="64.90" font-size="12.2" xml:space="preserve"> x </text><path d="M763 0H583V1113Q518 1052 412 992Q307 932 223 902V1071Q374 1140 487 1238Q600 1336 647 1428H763Z" transform="translate(628.66 64.90) scale(0.00596 -0.00596)" fill="#000"/><text x="635.45" y="64.90" font-size="12.2" xml:space="preserve">0</text><text x="642.23" y="57.80" font-size="6.8" xml:space="preserve">-7</text><text x="648.28" y="64.90" font-size="12.2" xml:space="preserve"> mol·dm</text><text x="692.34" y="57.80" font-size="6.8" xml:space="preserve">-3</text>
<path d="M577 78.30H585.8M596.2 78.30H605" stroke="#404040" stroke-width="1.2" fill="none" opacity="0.55"/>
<polygon points="591.00,82.54 594.72,76.18 587.28,76.18" fill="#404040"/>
<text x="609.00" y="82.40" font-size="12.2" xml:space="preserve">5 x </text><path d="M763 0H583V1113Q518 1052 412 992Q307 932 223 902V1071Q374 1140 487 1238Q600 1336 647 1428H763Z" transform="translate(628.66 82.40) scale(0.00596 -0.00596)" fill="#000"/><text x="635.45" y="82.40" font-size="12.2" xml:space="preserve">0</text><text x="642.23" y="75.30" font-size="6.8" xml:space="preserve">-7</text><text x="648.28" y="82.40" font-size="12.2" xml:space="preserve"> mol·dm</text><text x="692.34" y="75.30" font-size="6.8" xml:space="preserve">-3</text>
<path d="M577 95.80H585.8M596.2 95.80H605" stroke="#dcdcdc" stroke-width="1.2" fill="none" opacity="0.55"/>
<polygon points="591.00,92.14 594.66,95.80 591.00,99.46 587.34,95.80" fill="#dcdcdc"/>
<path d="M763 0H583V1113Q518 1052 412 992Q307 932 223 902V1071Q374 1140 487 1238Q600 1336 647 1428H763Z" transform="translate(609.00 99.90) scale(0.00596 -0.00596)" fill="#000"/><text x="615.79" y="99.90" font-size="12.2" xml:space="preserve"> x </text><path d="M763 0H583V1113Q518 1052 412 992Q307 932 223 902V1071Q374 1140 487 1238Q600 1336 647 1428H763Z" transform="translate(628.66 99.90) scale(0.00596 -0.00596)" fill="#000"/><text x="635.45" y="99.90" font-size="12.2" xml:space="preserve">0</text><text x="642.23" y="92.80" font-size="6.8" xml:space="preserve">-6</text><text x="648.28" y="99.90" font-size="12.2" xml:space="preserve"> mol·dm</text><text x="692.34" y="92.80" font-size="6.8" xml:space="preserve">-3</text>
<path d="M577 113.30H585.8M596.2 113.30H605" stroke="#8c8c8c" stroke-width="1.2" fill="none" opacity="0.55"/>
<polygon points="586.76,113.30 593.12,109.58 593.12,117.02" fill="#8c8c8c"/>
<text x="609.00" y="117.40" font-size="12.2" xml:space="preserve">5 x </text><path d="M763 0H583V1113Q518 1052 412 992Q307 932 223 902V1071Q374 1140 487 1238Q600 1336 647 1428H763Z" transform="translate(628.66 117.40) scale(0.00596 -0.00596)" fill="#000"/><text x="635.45" y="117.40" font-size="12.2" xml:space="preserve">0</text><text x="642.23" y="110.30" font-size="6.8" xml:space="preserve">-6</text><text x="648.28" y="117.40" font-size="12.2" xml:space="preserve"> mol·dm</text><text x="692.34" y="110.30" font-size="6.8" xml:space="preserve">-3</text>
<path d="M577 130.80H585.8M596.2 130.80H605" stroke="#a8a8a8" stroke-width="1.2" fill="none" opacity="0.55"/>
<polygon points="595.24,130.80 588.88,127.08 588.88,134.52" fill="#a8a8a8"/>
<path d="M763 0H583V1113Q518 1052 412 992Q307 932 223 902V1071Q374 1140 487 1238Q600 1336 647 1428H763Z" transform="translate(609.00 134.90) scale(0.00596 -0.00596)" fill="#000"/><text x="615.79" y="134.90" font-size="12.2" xml:space="preserve"> x </text><path d="M763 0H583V1113Q518 1052 412 992Q307 932 223 902V1071Q374 1140 487 1238Q600 1336 647 1428H763Z" transform="translate(628.66 134.90) scale(0.00596 -0.00596)" fill="#000"/><text x="635.45" y="134.90" font-size="12.2" xml:space="preserve">0</text><text x="642.23" y="127.80" font-size="6.8" xml:space="preserve">-5</text><text x="648.28" y="134.90" font-size="12.2" xml:space="preserve"> mol·dm</text><text x="692.34" y="127.80" font-size="6.8" xml:space="preserve">-3</text>
<path d="M577 148.30H585.8M596.2 148.30H605" stroke="#555555" stroke-width="1.2" fill="none" opacity="0.55"/>
<polygon points="594.06,149.98 591.00,151.66 587.94,149.98 587.94,146.62 591.00,144.94 594.06,146.62" fill="#555555"/>
<text x="609.00" y="152.40" font-size="12.2" xml:space="preserve">5 x </text><path d="M763 0H583V1113Q518 1052 412 992Q307 932 223 902V1071Q374 1140 487 1238Q600 1336 647 1428H763Z" transform="translate(628.66 152.40) scale(0.00596 -0.00596)" fill="#000"/><text x="635.45" y="152.40" font-size="12.2" xml:space="preserve">0</text><text x="642.23" y="145.30" font-size="6.8" xml:space="preserve">-5</text><text x="648.28" y="152.40" font-size="12.2" xml:space="preserve"> mol·dm</text><text x="692.34" y="145.30" font-size="6.8" xml:space="preserve">-3</text>
<path d="M577 165.80H585.8M596.2 165.80H605" stroke="#1a1a1a" stroke-width="1.2" fill="none" opacity="0.55"/>
<polygon points="591.00,162.50 591.97,164.76 594.42,164.99 592.57,166.61 593.12,169.01 591.00,167.76 588.88,169.01 589.43,166.61 587.58,164.99 590.03,164.76" fill="#1a1a1a"/>
<path d="M763 0H583V1113Q518 1052 412 992Q307 932 223 902V1071Q374 1140 487 1238Q600 1336 647 1428H763Z" transform="translate(609.00 169.90) scale(0.00596 -0.00596)" fill="#000"/><text x="615.79" y="169.90" font-size="12.2" xml:space="preserve"> x </text><path d="M763 0H583V1113Q518 1052 412 992Q307 932 223 902V1071Q374 1140 487 1238Q600 1336 647 1428H763Z" transform="translate(628.66 169.90) scale(0.00596 -0.00596)" fill="#000"/><text x="635.45" y="169.90" font-size="12.2" xml:space="preserve">0</text><text x="642.23" y="162.80" font-size="6.8" xml:space="preserve">-4</text><text x="648.28" y="169.90" font-size="12.2" xml:space="preserve"> mol·dm</text><text x="692.34" y="162.80" font-size="6.8" xml:space="preserve">-3</text>
<path d="M577 183.30H585.8M596.2 183.30H605" stroke="#474747" stroke-width="1.2" fill="none" opacity="0.55"/>
<polygon points="591.00,180.00 594.37,182.45 593.08,186.40 588.92,186.40 587.63,182.45" fill="#474747"/>
<text x="609.00" y="187.40" font-size="12.2" xml:space="preserve">2 x </text><path d="M763 0H583V1113Q518 1052 412 992Q307 932 223 902V1071Q374 1140 487 1238Q600 1336 647 1428H763Z" transform="translate(628.66 187.40) scale(0.00596 -0.00596)" fill="#000"/><text x="635.45" y="187.40" font-size="12.2" xml:space="preserve">0</text><text x="642.23" y="180.30" font-size="6.8" xml:space="preserve">-4</text><text x="648.28" y="187.40" font-size="12.2" xml:space="preserve"> mol·dm</text><text x="692.34" y="180.30" font-size="6.8" xml:space="preserve">-3</text>
<path d="M577 200.80H585.8M596.2 200.80H605" stroke="#3a3a3a" stroke-width="1.2" fill="none" opacity="0.55"/>
<circle cx="591.00" cy="200.80" r="3.00" fill="#3a3a3a"/><circle cx="589.98" cy="200.20" r="0.84" fill="#8a8a8a"/>
<text x="609.00" y="204.90" font-size="12.2" xml:space="preserve">4 x </text><path d="M763 0H583V1113Q518 1052 412 992Q307 932 223 902V1071Q374 1140 487 1238Q600 1336 647 1428H763Z" transform="translate(628.66 204.90) scale(0.00596 -0.00596)" fill="#000"/><text x="635.45" y="204.90" font-size="12.2" xml:space="preserve">0</text><text x="642.23" y="197.80" font-size="6.8" xml:space="preserve">-4</text><text x="648.28" y="204.90" font-size="12.2" xml:space="preserve"> mol·dm</text><text x="692.34" y="197.80" font-size="6.8" xml:space="preserve">-3</text>
<path d="M577 218.30H585.8M596.2 218.30H605" stroke="#707070" stroke-width="1.2" fill="none" opacity="0.55"/>
<path d="M588.00 218.30H594.00M591.00 215.30V221.30" stroke="#707070" stroke-width="0.8" fill="none"/>
<text x="609.00" y="222.40" font-size="12.2" xml:space="preserve">6 x </text><path d="M763 0H583V1113Q518 1052 412 992Q307 932 223 902V1071Q374 1140 487 1238Q600 1336 647 1428H763Z" transform="translate(628.66 222.40) scale(0.00596 -0.00596)" fill="#000"/><text x="635.45" y="222.40" font-size="12.2" xml:space="preserve">0</text><text x="642.23" y="215.30" font-size="6.8" xml:space="preserve">-4</text><text x="648.28" y="222.40" font-size="12.2" xml:space="preserve"> mol·dm</text><text x="692.34" y="215.30" font-size="6.8" xml:space="preserve">-3</text>
<path d="M577 235.80H585.8M596.2 235.80H605" stroke="#9c9c9c" stroke-width="1.2" fill="none" opacity="0.55"/>
<path d="M588.42 233.22L593.58 238.38M593.58 233.22L588.42 238.38" stroke="#9c9c9c" stroke-width="0.8" fill="none"/>
<text x="609.00" y="239.90" font-size="12.2" xml:space="preserve">8 x </text><path d="M763 0H583V1113Q518 1052 412 992Q307 932 223 902V1071Q374 1140 487 1238Q600 1336 647 1428H763Z" transform="translate(628.66 239.90) scale(0.00596 -0.00596)" fill="#000"/><text x="635.45" y="239.90" font-size="12.2" xml:space="preserve">0</text><text x="642.23" y="232.80" font-size="6.8" xml:space="preserve">-4</text><text x="648.28" y="239.90" font-size="12.2" xml:space="preserve"> mol·dm</text><text x="692.34" y="232.80" font-size="6.8" xml:space="preserve">-3</text>
<path d="M577 253.30H585.8M596.2 253.30H605" stroke="#404040" stroke-width="1.2" fill="none" opacity="0.55"/>
<path d="M587.82 253.30L594.18 253.30M588.75 251.05L593.25 255.55M591.00 250.12L591.00 256.48M593.25 251.05L588.75 255.55" stroke="#5a5a5a" stroke-width="0.85" fill="none"/>
<path d="M763 0H583V1113Q518 1052 412 992Q307 932 223 902V1071Q374 1140 487 1238Q600 1336 647 1428H763Z" transform="translate(609.00 257.40) scale(0.00596 -0.00596)" fill="#000"/><text x="615.79" y="257.40" font-size="12.2" xml:space="preserve"> x </text><path d="M763 0H583V1113Q518 1052 412 992Q307 932 223 902V1071Q374 1140 487 1238Q600 1336 647 1428H763Z" transform="translate(628.66 257.40) scale(0.00596 -0.00596)" fill="#000"/><text x="635.45" y="257.40" font-size="12.2" xml:space="preserve">0</text><text x="642.23" y="250.30" font-size="6.8" xml:space="preserve">-3</text><text x="648.28" y="257.40" font-size="12.2" xml:space="preserve"> mol·dm</text><text x="692.34" y="250.30" font-size="6.8" xml:space="preserve">-3</text>
<path d="M577 270.80H585.8M596.2 270.80H605" stroke="#c0c0c0" stroke-width="1.2" fill="none" opacity="0.55"/>
<path d="M585.8 270.80H596.2" stroke="#c0c0c0" stroke-width="1.2" fill="none" opacity="0.55"/>
<text x="609.00" y="274.90" font-size="12.2" xml:space="preserve">2 x </text><path d="M763 0H583V1113Q518 1052 412 992Q307 932 223 902V1071Q374 1140 487 1238Q600 1336 647 1428H763Z" transform="translate(628.66 274.90) scale(0.00596 -0.00596)" fill="#000"/><text x="635.45" y="274.90" font-size="12.2" xml:space="preserve">0</text><text x="642.23" y="267.80" font-size="6.8" xml:space="preserve">-3</text><text x="648.28" y="274.90" font-size="12.2" xml:space="preserve"> mol·dm</text><text x="692.34" y="267.80" font-size="6.8" xml:space="preserve">-3</text>
</svg></body></html>
